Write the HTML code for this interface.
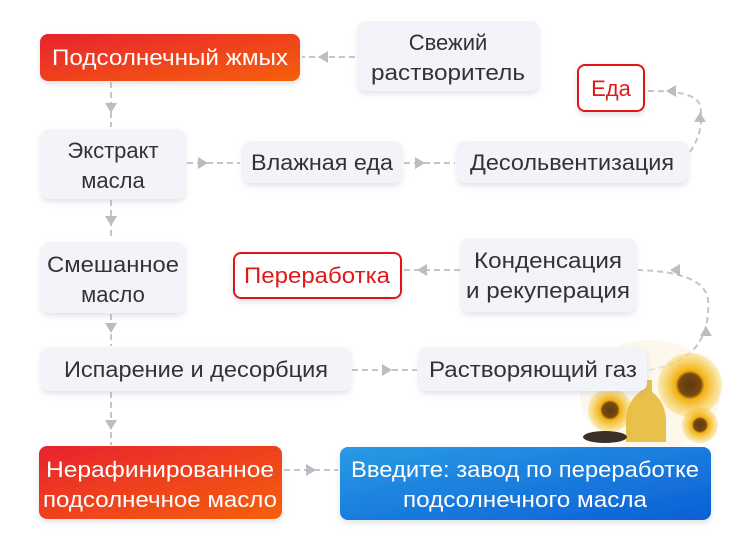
<!DOCTYPE html>
<html><head><meta charset="utf-8"><style>
body{margin:0;background:#fff;}
svg{display:block;font-family:"Liberation Sans","Noto Sans CJK SC",sans-serif;}
</style></head><body>
<svg width="745" height="538" viewBox="0 0 745 538" xmlns="http://www.w3.org/2000/svg">
<defs>
<linearGradient id="rg" x1="0" y1="0" x2="1" y2="1"><stop offset="0" stop-color="#e8232f"/><stop offset="1" stop-color="#f6600c"/></linearGradient>
<linearGradient id="bg" x1="0" y1="0" x2="1" y2="1"><stop offset="0" stop-color="#2a9be4"/><stop offset="1" stop-color="#0a5fd6"/></linearGradient>
<radialGradient id="sf" cx="0.5" cy="0.5" r="0.5"><stop offset="0" stop-color="#5a3a10"/><stop offset="0.35" stop-color="#7a4a10"/><stop offset="0.45" stop-color="#f2b010"/><stop offset="1" stop-color="#f7c630" stop-opacity="0.3"/></radialGradient>
<filter id="sh" x="-20%" y="-30%" width="140%" height="170%"><feDropShadow dx="0" dy="3" stdDeviation="3" flood-color="#8890a8" flood-opacity="0.25"/></filter>
</defs>
<g stroke="#c4c5cc" stroke-width="2" stroke-dasharray="6,4" fill="none">
<path d="M355 57 H302"/><path d="M111 82 V127"/><path d="M187 163 H240"/><path d="M404 163 H455"/>
<path d="M111 200 V240"/><path d="M111 314 V346"/><path d="M111 392 V445"/>
<path d="M352 370 H417"/><path d="M284 470 H338"/>
<path d="M690 152 Q705 130 700 105 Q695 90 646 91"/>
<path d="M649 370 Q712 360 708 300 Q705 272 638 270"/><path d="M460 270 H402"/>
</g>
<g fill="#bbbcc4">
<path d="M318 57 l10 -6 v12z"/><path d="M105 103 h12 l-6 10z"/><path d="M208 163 l-10 -6 v12z"/><path d="M425 163 l-10 -6 v12z"/>
<path d="M105 216 h12 l-6 10z"/><path d="M105 323 h12 l-6 10z"/><path d="M105 420 h12 l-6 10z"/>
<path d="M392 370 l-10 -6 v12z"/><path d="M316 470 l-10 -6 v12z"/>
<path d="M666 91 l10 -6 v12z"/><path d="M694 122 l6 -10 l6 10z"/>
<path d="M670 270 l10 -6 v12z"/><path d="M417 270 l10 -6 v12z"/><path d="M700 336 l6 -10 l6 10z"/>
</g>
<g>
<ellipse cx="650" cy="395" rx="70" ry="55" fill="#fbf3e0" opacity="0.6"/>
<circle cx="690" cy="385" r="32" fill="url(#sf)"/>
<circle cx="610" cy="410" r="22" fill="url(#sf)"/>
<circle cx="700" cy="425" r="18" fill="url(#sf)"/>
<path d="M640 380 h12 v12 q14 10 14 30 v20 h-40 v-20 q0 -20 14 -30z" fill="#e6b93a" opacity="0.9"/>
<ellipse cx="605" cy="437" rx="22" ry="6" fill="#3a3028"/>
</g>
<g filter="url(#sh)">
<rect x="40" y="34" width="260" height="47" rx="8" fill="url(#rg)"/>
<rect x="358" y="21" width="181" height="70" rx="8" fill="#f3f4f9"/>
<rect x="578" y="65" width="66" height="46" rx="7" fill="#fff" stroke="#e01818" stroke-width="2"/>
<rect x="41" y="129" width="144" height="70" rx="8" fill="#f3f4f9"/>
<rect x="243" y="141" width="159" height="42" rx="8" fill="#f3f4f9"/>
<rect x="457" y="141" width="231" height="42" rx="8" fill="#f3f4f9"/>
<rect x="41" y="242" width="144" height="71" rx="8" fill="#f3f4f9"/>
<rect x="234" y="253" width="167" height="45" rx="7" fill="#fff" stroke="#e01818" stroke-width="2"/>
<rect x="461" y="238" width="175" height="74" rx="8" fill="#f3f4f9"/>
<rect x="41" y="347" width="310" height="44" rx="8" fill="#f3f4f9"/>
<rect x="419" y="347" width="228" height="44" rx="8" fill="#f3f4f9"/>
<rect x="39" y="446" width="243" height="73" rx="8" fill="url(#rg)"/>
<rect x="340" y="447" width="371" height="73" rx="8" fill="url(#bg)"/>
</g>
<g font-size="22" text-anchor="middle" fill="#333">
<text x="170" y="65" fill="#fff" textLength="236" lengthAdjust="spacingAndGlyphs">Подсолнечный жмых</text>
<text x="448" y="50">Свежий</text><text x="448" y="80" textLength="154" lengthAdjust="spacingAndGlyphs">растворитель</text>
<text x="611" y="96" fill="#e01818">Еда</text>
<text x="113" y="158">Экстракт</text><text x="113" y="188">масла</text>
<text x="322" y="170" textLength="142" lengthAdjust="spacingAndGlyphs">Влажная еда</text>
<text x="572" y="170" textLength="204" lengthAdjust="spacingAndGlyphs">Десольвентизация</text>
<text x="113" y="272" textLength="132" lengthAdjust="spacingAndGlyphs">Смешанное</text><text x="113" y="302">масло</text>
<text x="317" y="283" fill="#e01818" textLength="146" lengthAdjust="spacingAndGlyphs">Переработка</text>
<text x="548" y="268" textLength="148" lengthAdjust="spacingAndGlyphs">Конденсация</text><text x="548" y="298" textLength="164" lengthAdjust="spacingAndGlyphs">и рекуперация</text>
<text x="196" y="377" textLength="264" lengthAdjust="spacingAndGlyphs">Испарение и десорбция</text>
<text x="533" y="377" textLength="208" lengthAdjust="spacingAndGlyphs">Растворяющий газ</text>
<text x="160" y="477" fill="#fff" textLength="228" lengthAdjust="spacingAndGlyphs">Нерафинированное</text><text x="160" y="507" fill="#fff" textLength="234" lengthAdjust="spacingAndGlyphs">подсолнечное масло</text>
<text x="525" y="477" fill="#fff" textLength="348" lengthAdjust="spacingAndGlyphs">Введите: завод по переработке</text><text x="525" y="507" fill="#fff" textLength="244" lengthAdjust="spacingAndGlyphs">подсолнечного масла</text>
</g>
</svg>
</body></html>
